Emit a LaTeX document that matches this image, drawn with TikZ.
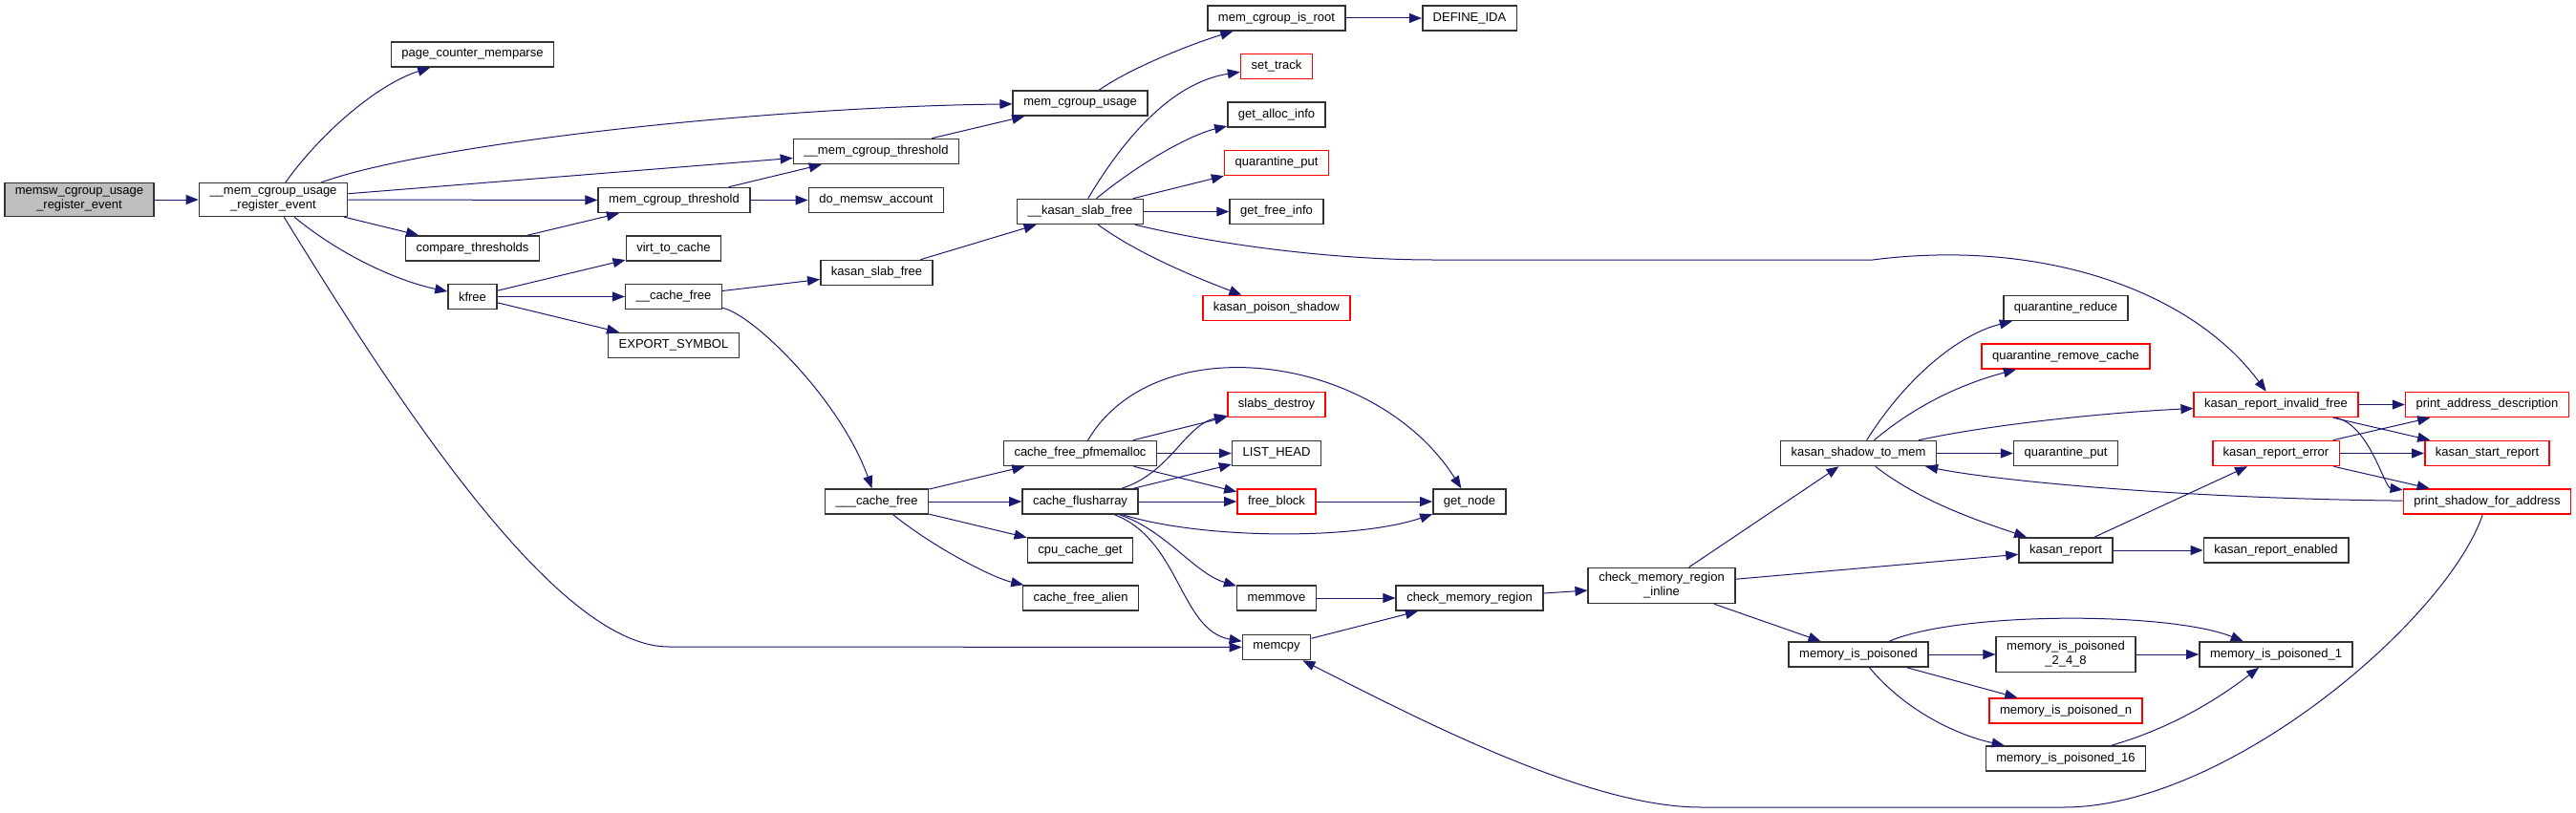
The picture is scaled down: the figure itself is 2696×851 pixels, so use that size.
\documentclass[tikz,border=0pt]{standalone}
\usepackage{fontspec}
\setmainfont{Liberation Sans}
\usetikzlibrary{arrows.meta}
\definecolor{callblue}{HTML}{191970}
\definecolor{hotred}{HTML}{FF0000}

\begin{document}
\begin{tikzpicture}[x=1pt,y=-1pt,
  fn/.style={draw=black!80,line width=1.6pt,fill=white,minimum height=26pt,inner xsep=11pt,inner ysep=5pt,align=center,font=\fontsize{13}{15}\selectfont},
  fr/.style={fn,draw=hotred},
  fg/.style={fn,fill=black!25},
  ce/.style={draw=callblue,line width=1pt,-{Triangle[length=13pt,width=10pt]}}]
  \useasboundingbox (0,0) rectangle (2696,851);
  % column 1-2
  \node[fg] (memsw) at (83,209) {memsw\_cgroup\_usage\\\_register\_event};
  \node[fn] (murE) at (286,209) {\_\_mem\_cgroup\_usage\\\_register\_event};
  % column 3
  \node[fn] (pcm) at (494.5,57) {page\_counter\_memparse};
  \node[fn] (ct) at (494.5,260) {compare\_thresholds};
  \node[fn] (kfree) at (494.5,310.5) {kfree};
  % column 4
  \node[fn] (mct) at (705.5,209.5) {mem\_cgroup\_threshold};
  \node[fn] (vtc) at (705,260) {virt\_to\_cache};
  \node[fn] (cf1) at (705,310.5) {\_\_cache\_free};
  \node[fn] (expsym) at (705,361.5) {EXPORT\_SYMBOL};
  % column 5
  \node[fn] (mctu) at (917,158.5) {\_\_mem\_cgroup\_threshold};
  \node[fn] (dma) at (917,209.5) {do\_memsw\_account};
  \node[fn] (ksf) at (917.5,285.5) {kasan\_slab\_free};
  \node[fn] (cf3) at (917.5,525) {\_\_\_cache\_free};
  % column 6
  \node[fn] (mcu) at (1130.5,108) {mem\_cgroup\_usage};
  \node[fn] (kksf) at (1130.5,221.5) {\_\_kasan\_slab\_free};
  \node[fn] (cfp) at (1130.5,474.5) {cache\_free\_pfmemalloc};
  \node[fn] (cfarr) at (1130.5,525) {cache\_flusharray};
  \node[fn] (ccg) at (1130.5,576) {cpu\_cache\_get};
  \node[fn] (cfal) at (1131,626) {cache\_free\_alien};
  % column 7
  \node[fn] (mcir) at (1336,19) {mem\_cgroup\_is\_root};
  \node[fr] (strk) at (1336,69.5) {set\_track};
  \node[fn] (gai) at (1336,120) {get\_alloc\_info};
  \node[fr] (qput1) at (1336,170.5) {quarantine\_put};
  \node[fn] (gfi) at (1336,221.5) {get\_free\_info};
  \node[fr] (kps) at (1336,322.5) {kasan\_poison\_shadow};
  \node[fr] (sdes) at (1336,423.5) {slabs\_destroy};
  \node[fn] (lhead) at (1336,474.5) {LIST\_HEAD};
  \node[fr] (fblk) at (1336,525) {free\_block};
  \node[fn] (mmove) at (1336,626) {memmove};
  \node[fn] (mcpy) at (1336,677.5) {memcpy};
  % column 8-9
  \node[fn] (dida) at (1538,19) {DEFINE\_IDA};
  \node[fn] (gnode) at (1538,525) {get\_node};
  \node[fn] (cmr) at (1538,626) {check\_memory\_region};
  \node[fn] (cmri) at (1739,613) {check\_memory\_region\\\_inline};
  % column 10
  \node[fn] (kstm) at (1945,474.5) {kasan\_shadow\_to\_mem};
  \node[fn] (mip) at (1945,685) {memory\_is\_poisoned};
  % column 11
  \node[fn] (qred) at (2162,322.5) {quarantine\_reduce};
  \node[fr] (qrc) at (2162,373) {quarantine\_remove\_cache};
  \node[fn] (qput2) at (2162,474.5) {quarantine\_put};
  \node[fn] (krep) at (2162,576) {kasan\_report};
  \node[fn] (mip248) at (2162,685) {memory\_is\_poisoned\\\_2\_4\_8};
  \node[fr] (mipn) at (2162,744) {memory\_is\_poisoned\_n};
  \node[fn] (mip16) at (2162,794) {memory\_is\_poisoned\_16};
  % column 12-13
  \node[fr] (krif) at (2382,423.5) {kasan\_report\_invalid\_free};
  \node[fr] (kre) at (2382,474.5) {kasan\_report\_error};
  \node[fn] (kren) at (2382,576) {kasan\_report\_enabled};
  \node[fn] (mip1) at (2382,685) {memory\_is\_poisoned\_1};
  \node[fr] (pad) at (2603,423.5) {print\_address\_description};
  \node[fr] (ksr) at (2603,474.5) {kasan\_start\_report};
  \node[fr] (psfa) at (2603,525) {print\_shadow\_for\_address};
  % straight calls
  \foreach \a/\b in {memsw/murE,murE/mctu,murE/mct,murE/ct,mct/mctu,mct/dma,ct/mct,mctu/mcu,mcir/dida,
    kfree/vtc,kfree/cf1,kfree/expsym,cf1/ksf,ksf/kksf,kksf/qput1,kksf/gfi,cf3/cfp,cf3/cfarr,cf3/ccg,
    cfp/sdes,cfp/lhead,cfp/fblk,cfarr/lhead,cfarr/fblk,fblk/gnode,mmove/cmr,mcpy/cmr,cmr/cmri,
    cmri/kstm,cmri/krep,cmri/mip,kstm/qput2,krep/kre,krep/kren,krif/pad,krif/ksr,kre/pad,kre/ksr,
    kre/psfa,mip/mip248,mip/mipn,mip248/mip1}
    \draw[ce] (\a) -- (\b);
  % curved calls
  \draw[ce] (murE) .. controls (335,140) and (395,88) .. (pcm);
  \draw[ce] (murE) .. controls (450,150) and (800,112) .. (mcu);
  \draw[ce] (murE) .. controls (360,270) and (420,295) .. (kfree);
  \draw[ce] (murE) .. controls (410,410) and (580,677) .. (700,677) -- (mcpy);
  \draw[ce] (mcu) .. controls (1185,70) and (1250,45) .. (mcir);
  \draw[ce] (cf1) .. controls (790,330) and (880,420) .. (cf3);
  \draw[ce] (kksf) .. controls (1185,130) and (1235,85) .. (strk);
  \draw[ce] (kksf) .. controls (1200,165) and (1250,140) .. (gai);
  \draw[ce] (kksf) .. controls (1300,262) and (1420,272) .. (1500,272) -- (1960,272)
    .. controls (2130,250) and (2290,300) .. (krif);
  \draw[ce] (kksf) .. controls (1190,265) and (1250,290) .. (kps);
  \draw[ce] (cf3) .. controls (980,575) and (1040,605) .. (cfal);
  \draw[ce] (cfp) .. controls (1210,340) and (1440,370) .. (gnode);
  \draw[ce] (cfarr) .. controls (1225,495) and (1240,445) .. (sdes);
  \draw[ce] (cfarr) .. controls (1260,565) and (1420,565) .. (gnode);
  \draw[ce] (cfarr) .. controls (1220,555) and (1250,600) .. (mmove);
  \draw[ce] (cfarr) .. controls (1235,565) and (1235,660) .. (mcpy);
  \draw[ce] (kstm) .. controls (1995,395) and (2050,350) .. (qred);
  \draw[ce] (kstm) .. controls (2010,420) and (2060,400) .. (qrc);
  \draw[ce] (kstm) .. controls (2080,445) and (2200,432) .. (krif);
  \draw[ce] (kstm) .. controls (2010,525) and (2070,545) .. (krep);
  \draw[ce] (krif) .. controls (2480,445) and (2495,510) .. (psfa);
  \draw[ce] (psfa) .. controls (2300,522) and (2100,505) .. (kstm);
  \draw[ce] (psfa) .. controls (2560,650) and (2330,845) .. (2160,845) -- (1780,845)
    .. controls (1660,845) and (1480,750) .. (mcpy);
  \draw[ce] (mip) .. controls (2050,640) and (2270,640) .. (mip1);
  \draw[ce] (mip) .. controls (1995,745) and (2050,770) .. (mip16);
  \draw[ce] (mip16) .. controls (2280,760) and (2330,725) .. (mip1);
\end{tikzpicture}
\end{document}
